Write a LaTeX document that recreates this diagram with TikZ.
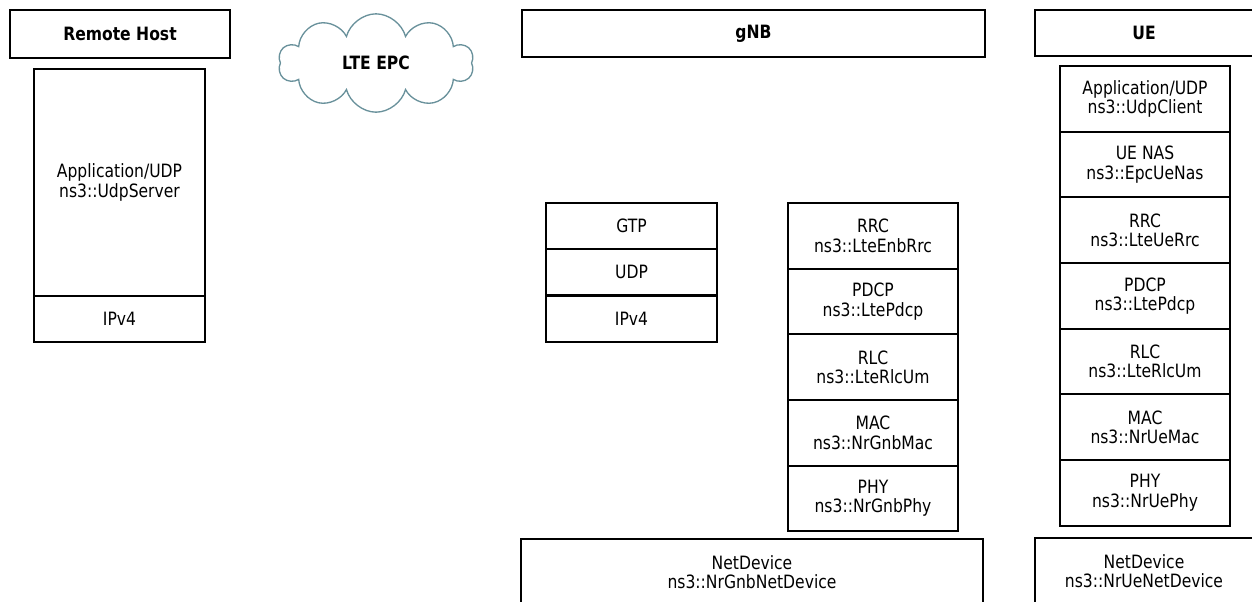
\documentclass[tikz,border=0pt]{standalone}
\usepackage{fontspec}
\setmainfont{DejaVu Sans}[FakeStretch=0.85]
\usetikzlibrary{positioning, shapes.symbols}
\definecolor{cloudline}{RGB}{105,145,155}
\tikzstyle{title} = [rectangle, draw=black, line width=1.3pt, outer sep=0pt, minimum height=28.2pt, font=\fontsize{11}{11.6}\selectfont\bfseries]
\tikzstyle{layer} = [rectangle, draw=black, line width=1.3pt, outer sep=0pt, minimum width=102pt, minimum height=39.4pt, align=center, font=\fontsize{11}{11.6}\selectfont]
\tikzstyle{thin} = [layer, minimum height=27.8pt]
\tikzstyle{epc} = [cloud, cloud puffs=10, cloud ignores aspect, draw=cloudline, line width=0.8pt, minimum width=117pt, minimum height=59pt, font=\fontsize{11}{11.6}\selectfont\bfseries]

\begin{document}
\begin{tikzpicture}[x=0.6pt, y=-0.6pt]
    \useasboundingbox (0,0) rectangle (1252,601);

    % Remote host
    \node (rhost) [title, minimum width=132pt, minimum height=28.8pt] at (120,34) {Remote Host};
    \node (rapp) [layer, minimum width=102.6pt, minimum height=136.2pt] at (119.5,182.5) {Application/UDP\\ns3::UdpServer};
    \node (rip) [thin, minimum width=102.6pt, below=0pt of rapp] {IPv4};

    % Core network
    \node (epc) [epc] at (376,63) {LTE EPC};

    % gNB side
    \node (gnb) [title, minimum width=277.8pt] at (753.5,33.5) {gNB};
    \node (gtp) [thin, minimum width=102.6pt] at (631.5,226) {GTP};
    \node (gudp) [thin, minimum width=102.6pt, below=0pt of gtp] {UDP};
    \node (gip) [thin, minimum width=102.6pt, below=0pt of gudp] {IPv4};

    \node (grrc) [layer] at (873,235.8) {RRC\\ns3::LteEnbRrc};
    \node (gpdcp) [layer, below=0pt of grrc] {PDCP\\ns3::LtePdcp};
    \node (grlc) [layer, below=0pt of gpdcp] {RLC\\ns3::LteRlcUm};
    \node (gmac) [layer, below=0pt of grlc] {MAC\\ns3::NrGnbMac};
    \node (gphy) [layer, below=0pt of gmac] {PHY\\ns3::NrGnbPhy};
    \node (gdev) [layer, minimum width=277.2pt, minimum height=39.6pt] at (752,572) {NetDevice\\ns3::NrGnbNetDevice};

    % UE side
    \node (ue) [title, minimum width=130.8pt, minimum height=27.6pt] at (1144,33) {UE};
    \node (uapp) [layer] at (1145,98.8) {Application/UDP\\ns3::UdpClient};
    \node (unas) [layer, below=0pt of uapp] {UE NAS\\ns3::EpcUeNas};
    \node (urrc) [layer, below=0pt of unas] {RRC\\ns3::LteUeRrc};
    \node (updcp) [layer, below=0pt of urrc] {PDCP\\ns3::LtePdcp};
    \node (urlc) [layer, below=0pt of updcp] {RLC\\ns3::LteRlcUm};
    \node (umac) [layer, below=0pt of urlc] {MAC\\ns3::NrUeMac};
    \node (uphy) [layer, below=0pt of umac] {PHY\\ns3::NrUePhy};
    \node (udev) [layer, minimum width=130.8pt, minimum height=39.6pt] at (1144,571) {NetDevice\\ns3::NrUeNetDevice};

\end{tikzpicture}
\end{document}
